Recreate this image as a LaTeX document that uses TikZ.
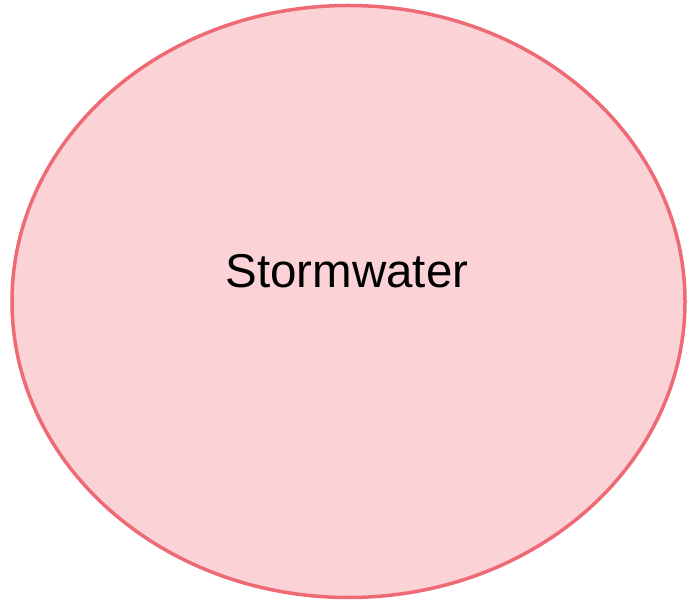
\documentclass[tikz,border=0pt]{standalone}
\usepackage{fontspec}
\setmainfont{Liberation Sans}
\definecolor{fillpink}{HTML}{FBD3D7}
\definecolor{edgered}{HTML}{EE6A74}
\tikzset{blob/.style={draw=edgered, fill=fillpink, line width=3.5pt}}
\begin{document}
\begin{tikzpicture}[x=1pt,y=1pt]
\useasboundingbox (0,0) rectangle (691,603);
\fill[white] (0,0) rectangle (691,603);
\draw[blob] (348.5,301.5) ellipse [x radius=336.5, y radius=296];
\node[font=\fontsize{47.5}{57}\selectfont, inner sep=0pt] (label) at (347,332) {Stormwater};
\end{tikzpicture}
\end{document}
